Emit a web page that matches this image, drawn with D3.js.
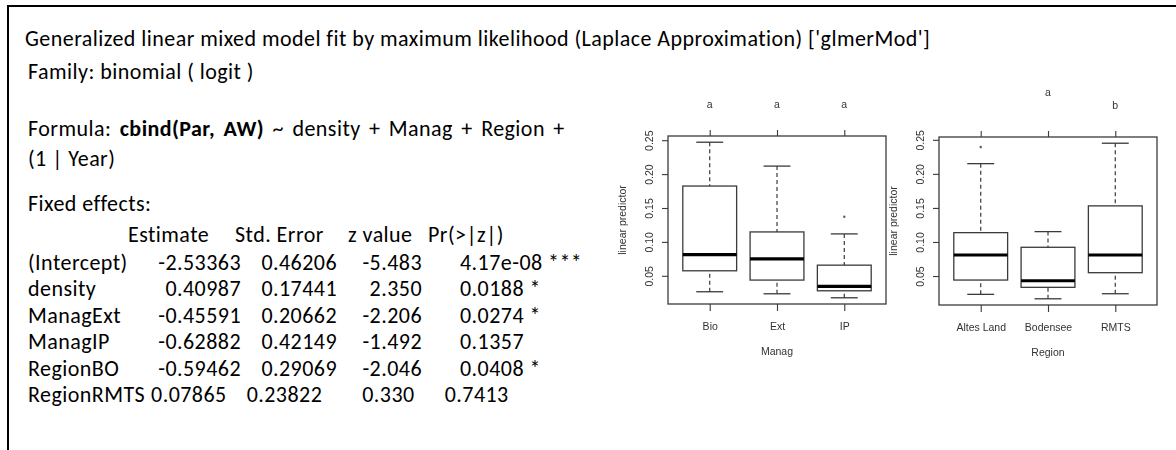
<!DOCTYPE html>
<html><head><meta charset="utf-8">
<script src="https://cdn.jsdelivr.net/npm/d3@7"></script>
<style>
html,body{margin:0;padding:0;background:#fff;}
svg{display:block;}
.doc text{font-family:Carlito,Lato,"Liberation Sans",sans-serif;font-size:22px;letter-spacing:0.45px;fill:#000;}
.plot text{font-family:"Liberation Sans",Arial,sans-serif;font-size:10.5px;fill:#333;}
</style></head><body>
<script>
// ---- glmer summary text ----
const titleLine = "Generalized linear mixed model fit by maximum likelihood (Laplace Approximation) ['glmerMod']";
const familyLine = "Family: binomial ( logit )";
const formulaLabel = "Formula: ";
const formulaResponse = "cbind(Par, AW)";
const formulaTerms = " ~ density + Manag + Region +";
const formulaCont = "(1 | Year)";
const fixedHeading = "Fixed effects:";
const columnHeads = ["Estimate", "Std. Error", "z value", "Pr(>|z|)"];
const termNames = ["(Intercept)", "density", "ManagExt", "ManagIP", "RegionBO", "RegionRMTS"];
const estimates = ["-2.53363", "0.40987", "-0.45591", "-0.62882", "-0.59462", "0.07865"];
const stdErrors = ["0.46206", "0.17441", "0.20662", "0.42149", "0.29069", "0.23822"];
const zValues = ["-5.483", "2.350", "-2.206", "-1.492", "-2.046", "0.330"];
const pValues = ["4.17e-08", "0.0188", "0.0274", "0.1357", "0.0408", "0.7413"];
const signifCodes = ["***", "*", "*", "", "*", ""];

// ---- boxplot summaries: [lower whisker, Q1, median, Q3, upper whisker] ----
const managLevels = ["Bio", "Ext", "IP"];
const managStats = [
  [0.0265, 0.0574, 0.0813, 0.1824, 0.2470],
  [0.0235, 0.0437, 0.0750, 0.1147, 0.2118],
  [0.0176, 0.0279, 0.0343, 0.0657, 0.1118]
];
const managOutliers = [[], [], [0.1372]];
const managLetters = ["a", "a", "a"];

const regionLevels = ["Altes Land", "Bodensee", "RMTS"];
const regionStats = [
  [0.0231, 0.0441, 0.0809, 0.1137, 0.2150],
  [0.0166, 0.0334, 0.0431, 0.0922, 0.1152],
  [0.0240, 0.0549, 0.0809, 0.1530, 0.2450]
];
const regionOutliers = [[0.2393], [], []];
const regionLetters = ["", "a", "b"];

const yTicks = [0.05, 0.10, 0.15, 0.20, 0.25];
const yTitle = "linear predictor";

const W = 1176, H = 450;
const svg = d3.select("body").append("svg").attr("width", W).attr("height", H);

// frame around the summary
const frame = svg.append("g").attr("stroke", "#000").attr("stroke-width", 2);
frame.append("line").attr("x1", 8).attr("x2", W).attr("y1", 6).attr("y2", 6);
frame.append("line").attr("x1", 8).attr("x2", 8).attr("y1", 5).attr("y2", H);

// ---- summary text ----
const doc = svg.append("g").attr("class", "doc");
const tx = 28;
doc.append("text").attr("x", 25).attr("y", 46).text(titleLine);
doc.append("text").attr("x", tx).attr("y", 79).text(familyLine);
// the formula paragraph is justified, so its first line has wider word gaps
const f = doc.append("text").attr("x", tx).attr("y", 136).attr("word-spacing", 3);
f.append("tspan").text(formulaLabel);
f.append("tspan").attr("font-weight", "bold").text(formulaResponse);
f.append("tspan").text(formulaTerms);
doc.append("text").attr("x", tx).attr("y", 166).text(formulaCont);
doc.append("text").attr("x", tx).attr("y", 211).text(fixedHeading);

const headX = [128, 235, 348, 428];
doc.selectAll("text.head").data(columnHeads).join("text")
  .attr("class", "head").attr("x", (d, i) => headX[i]).attr("y", 242).text(d => d);

const rowY = d3.scaleLinear().domain([0, termNames.length - 1]).range([270, 402]);
// column anchors: right edges for numbers, left edge for p-values
const cols = { est: 241, se: 337, z: 422, p: 460 };
// the last row is typed with fewer spaces; its cells follow one another
const gaps = [6, 20, 40, 30];

termNames.forEach((name, i) => {
  const y = rowY(i);
  const nameText = doc.append("text").attr("x", tx).attr("y", y).text(name);
  const pText = pValues[i] + (signifCodes[i] ? " " + signifCodes[i] : "");
  if (i < termNames.length - 1) {
    doc.append("text").attr("x", cols.est).attr("y", y).attr("text-anchor", "end").text(estimates[i]);
    doc.append("text").attr("x", cols.se).attr("y", y).attr("text-anchor", "end").text(stdErrors[i]);
    doc.append("text").attr("x", cols.z).attr("y", y).attr("text-anchor", "end").text(zValues[i]);
    doc.append("text").attr("x", cols.p).attr("y", y).text(pText);
  } else {
    let cx = tx + nameText.node().getComputedTextLength();
    [estimates[i], stdErrors[i], zValues[i], pText].forEach((s, k) => {
      const t = doc.append("text").attr("x", cx + gaps[k]).attr("y", y).text(s);
      cx += gaps[k] + t.node().getComputedTextLength();
    });
  }
});

// ---- boxplots ----
const defs = svg.append("defs");
defs.append("filter").attr("id", "soft").append("feGaussianBlur").attr("stdDeviation", 0.35);

function boxPanel(opts) {
  const { left, right, top, bottom, levels, stats, outliers, letters, letterLines, xTitle } = opts;
  const g = svg.append("g").attr("class", "plot").attr("filter", "url(#soft)");
  const allVals = stats.flat().concat(outliers.flat());
  const lo = d3.min(allVals), hi = d3.max(allVals), pad = (hi - lo) * 0.04;
  const y = d3.scaleLinear().domain([lo - pad, hi + pad]).range([bottom, top]);
  const n = levels.length;
  const x = d3.scaleLinear().domain([0.5 - 0.04 * n, n + 0.5 + 0.04 * n]).range([left, right]);
  const idx = d3.range(1, n + 1);
  const bw = (x(1.4) - x(0.6));
  const sw = bw / 2;
  const ink = "#3a3a3a";

  // left axis, labels parallel to the axis
  const ya = g.append("g").attr("transform", `translate(${left},0)`)
    .call(d3.axisLeft(y).tickValues(yTicks).tickSize(6).tickFormat(d3.format(".2f")));
  ya.select(".domain").remove();
  ya.selectAll("line").attr("stroke", ink).attr("stroke-width", 1.1);
  ya.selectAll("text").attr("x", null).attr("dy", null).attr("y", 0)
    .attr("text-anchor", "middle").attr("font-family", null).attr("font-size", null)
    .attr("transform", "translate(-15,0) rotate(-90)");

  // bottom axis
  const xa = g.append("g").attr("transform", `translate(0,${bottom})`)
    .call(d3.axisBottom(x).tickValues(idx).tickSize(7).tickFormat((d, i) => levels[i]));
  xa.select(".domain").remove();
  xa.selectAll("line").attr("stroke", ink).attr("stroke-width", 1.1);
  xa.selectAll("text").attr("font-family", null).attr("font-size", null).attr("dy", null).attr("y", 25.5);

  // top axis carrying the group letters
  const ta = g.append("g").attr("transform", `translate(0,${top})`)
    .call(d3.axisTop(x).tickValues(idx).tickSize(6).tickFormat(() => ""));
  ta.select(".domain").remove();
  ta.selectAll("line").attr("stroke", ink).attr("stroke-width", 1.1);
  g.selectAll("text.letter").data(letters).join("text").attr("class", "letter")
    .attr("x", (d, i) => x(i + 1)).attr("y", (d, i) => top - 28.5 - 13 * letterLines[i])
    .attr("text-anchor", "middle").attr("fill", "#222").text(d => d);

  // axis titles
  g.append("text").attr("x", (left + right) / 2).attr("y", bottom + 51)
    .attr("text-anchor", "middle").text(xTitle);
  g.append("text").attr("transform", `translate(${left - 42},${(top + bottom) / 2}) rotate(-90)`)
    .attr("text-anchor", "middle").text(yTitle);

  // whiskers, staples, boxes, medians
  const b = g.selectAll("g.box").data(stats).join("g").attr("class", "box");
  b.append("line").attr("x1", (d, i) => x(i + 1)).attr("x2", (d, i) => x(i + 1))
    .attr("y1", d => y(d[4])).attr("y2", d => y(d[3]))
    .attr("stroke", ink).attr("stroke-width", 1.2).attr("stroke-dasharray", "4,3");
  b.append("line").attr("x1", (d, i) => x(i + 1)).attr("x2", (d, i) => x(i + 1))
    .attr("y1", d => y(d[0])).attr("y2", d => y(d[1]))
    .attr("stroke", ink).attr("stroke-width", 1.2).attr("stroke-dasharray", "4,3");
  b.append("line").attr("x1", (d, i) => x(i + 1) - sw / 2).attr("x2", (d, i) => x(i + 1) + sw / 2)
    .attr("y1", d => y(d[4])).attr("y2", d => y(d[4])).attr("stroke", ink).attr("stroke-width", 1.3);
  b.append("line").attr("x1", (d, i) => x(i + 1) - sw / 2).attr("x2", (d, i) => x(i + 1) + sw / 2)
    .attr("y1", d => y(d[0])).attr("y2", d => y(d[0])).attr("stroke", ink).attr("stroke-width", 1.3);
  b.append("rect").attr("x", (d, i) => x(i + 1) - bw / 2).attr("width", bw)
    .attr("y", d => y(d[3])).attr("height", d => y(d[1]) - y(d[3]))
    .attr("fill", "none").attr("stroke", ink).attr("stroke-width", 1.3);
  b.append("line").attr("x1", (d, i) => x(i + 1) - bw / 2).attr("x2", (d, i) => x(i + 1) + bw / 2)
    .attr("y1", d => y(d[2])).attr("y2", d => y(d[2])).attr("stroke", "#000").attr("stroke-width", 3.2);

  // outliers
  outliers.forEach((vals, i) => {
    g.selectAll(null).data(vals).join("circle")
      .attr("cx", x(i + 1)).attr("cy", v => y(v)).attr("r", 1.3).attr("fill", "#666");
  });

  // plot frame
  g.append("rect").attr("x", left).attr("y", top).attr("width", right - left).attr("height", bottom - top)
    .attr("fill", "none").attr("stroke", ink).attr("stroke-width", 1.3);
}

boxPanel({ left: 668, right: 886, top: 136, bottom: 304, levels: managLevels, stats: managStats,
  outliers: managOutliers, letters: managLetters, letterLines: [0, 0, 0], xTitle: "Manag" });
boxPanel({ left: 939, right: 1157, top: 137, bottom: 305, levels: regionLevels, stats: regionStats,
  outliers: regionOutliers, letters: regionLetters, letterLines: [0, 1, 0], xTitle: "Region" });
</script>
</body></html>
